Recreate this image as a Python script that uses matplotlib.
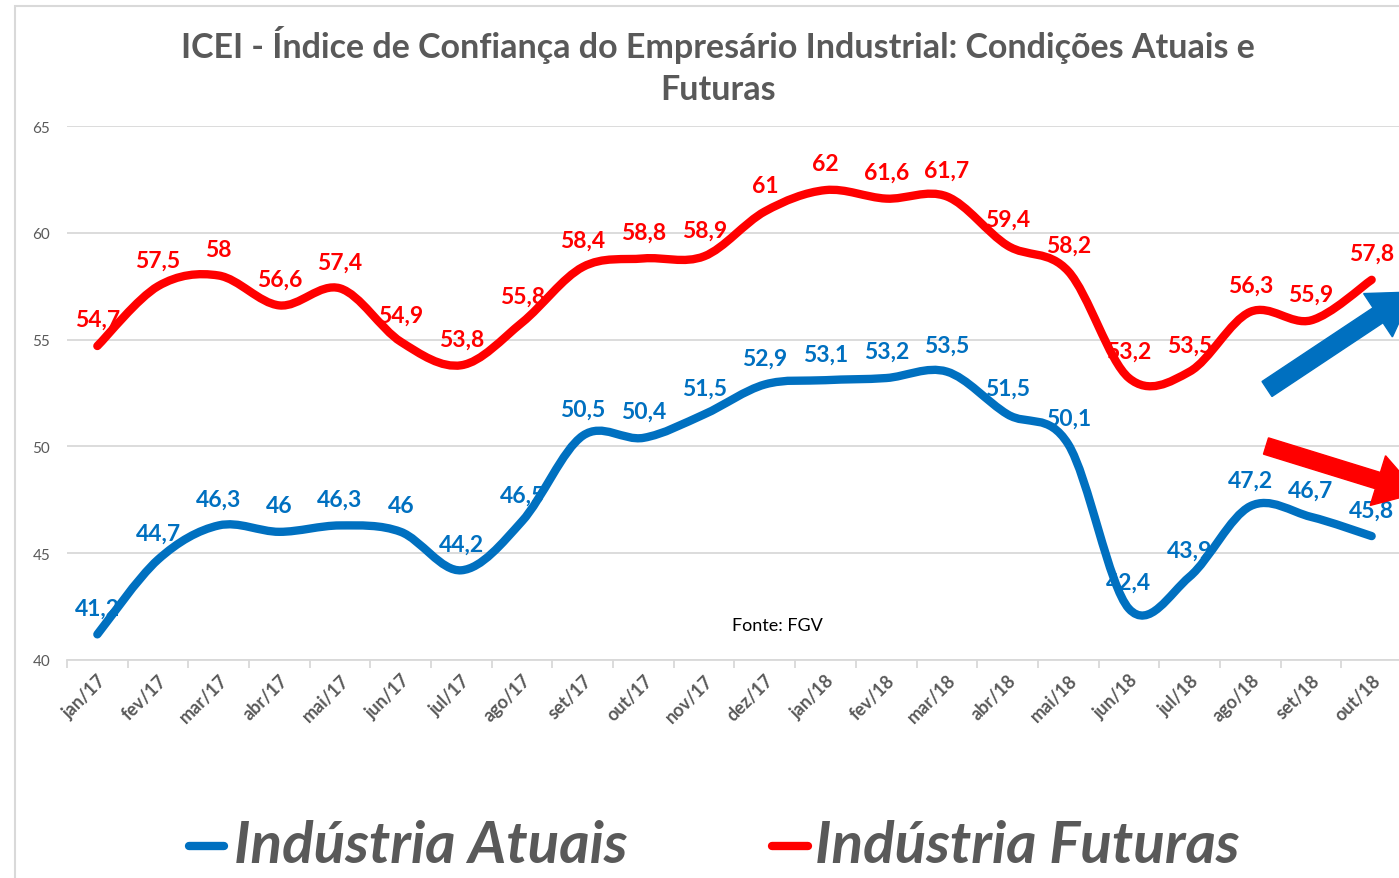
import matplotlib
matplotlib.use("Agg")
import matplotlib.pyplot as plt
from matplotlib.path import Path
from matplotlib.patches import PathPatch, FancyArrow, Rectangle
from matplotlib.lines import Line2D
import numpy as np

plt.rcParams.update({
    "font.family": ["Lato", "DejaVu Sans"],
})

meses = ["jan/17", "fev/17", "mar/17", "abr/17", "mai/17", "jun/17", "jul/17",
         "ago/17", "set/17", "out/17", "nov/17", "dez/17", "jan/18", "fev/18",
         "mar/18", "abr/18", "mai/18", "jun/18", "jul/18", "ago/18", "set/18",
         "out/18"]
atuais = [41.2, 44.7, 46.3, 46.0, 46.3, 46.0, 44.2, 46.5, 50.5, 50.4, 51.5,
          52.9, 53.1, 53.2, 53.5, 51.5, 50.1, 42.4, 43.9, 47.2, 46.7, 45.8]
futuras = [54.7, 57.5, 58.0, 56.6, 57.4, 54.9, 53.8, 55.8, 58.4, 58.8, 58.9,
           61.0, 62.0, 61.6, 61.7, 59.4, 58.2, 53.2, 53.5, 56.3, 55.9, 57.8]

AZUL = "#0070c0"
VERMELHO = "#ff0000"
CINZA = "#595959"
GRADE = "#d9d9d9"


def smooth_path(xs, ys):
    # Bezier segments like Excel's "smoothed line"
    pts = np.column_stack([xs, ys]).astype(float)
    n = len(pts)
    verts = [pts[0]]
    codes = [Path.MOVETO]
    for i in range(n - 1):
        p0 = pts[max(i - 1, 0)]
        p1 = pts[i]
        p2 = pts[i + 1]
        p3 = pts[min(i + 2, n - 1)]
        c1 = p1 + (p2 - p0) / 6.0
        c2 = p2 - (p3 - p1) / 6.0
        verts += [c1, c2, p2]
        codes += [Path.CURVE4] * 3
    return Path(verts, codes)


def fmt(v):
    s = f"{v:.1f}".replace(".", ",")
    return s[:-2] if s.endswith(",0") else s


W, H = 1399, 879
fig = plt.figure(figsize=(W / 100, H / 100), dpi=100)

# chart frame
fig.add_artist(Rectangle((15 / W, -0.1), 2, (H - 7) / H + 0.1, transform=fig.transFigure,
                         fill=False, edgecolor=GRADE, linewidth=1.5))

ax = fig.add_axes([67 / W, (H - 661) / H, (1402 - 67) / W, (661 - 127) / H])
ax.set_facecolor("none")
x = np.arange(len(meses))
ax.set_xlim(-0.5, len(meses) - 0.5)
ax.set_ylim(40, 65)
ax.set_yticks([40, 45, 50, 55, 60, 65])
ax.yaxis.grid(True, color=GRADE, linewidth=1.3)
ax.set_axisbelow(True)
for s in ["top", "right", "left"]:
    ax.spines[s].set_visible(False)
ax.spines["bottom"].set_color(GRADE)
ax.spines["bottom"].set_linewidth(1.3)
ax.tick_params(axis="y", length=0, labelsize=11, labelcolor=CINZA, pad=12)
ax.set_xticks(x)
ax.set_xticklabels(meses, rotation=45, ha="right", rotation_mode="anchor",
                   fontsize=13, color=CINZA, fontweight="bold")
ax.tick_params(axis="x", length=0, pad=8)
ax.set_xticks(np.arange(len(meses) + 1) - 0.5, minor=True)
ax.tick_params(axis="x", which="minor", length=6, color=GRADE, width=1.3)

for serie, cor in [(atuais, AZUL), (futuras, VERMELHO)]:
    ax.add_patch(PathPatch(smooth_path(x, serie), fill=False, edgecolor=cor,
                           linewidth=6, capstyle="round", joinstyle="round", zorder=4))
    for xi, v in zip(x, serie):
        ax.annotate(fmt(v), (xi, v), xytext=(0, 19), textcoords="offset points",
                    ha="center", va="center", fontsize=16.5, fontweight="bold",
                    color=cor, zorder=3)

ax.text(0.532, 0.065, "Fonte: FGV", transform=ax.transAxes, ha="center",
        va="center", fontsize=13, color="black")

fig.text(718 / W, 1 - 45 / H, "ICEI - Índice de Confiança do Empresário Industrial: Condições Atuais e",
         ha="center", va="center", fontsize=24.5, fontweight="bold", color=CINZA)
fig.text(718 / W, 1 - 90 / H, "Futuras",
         ha="center", va="center", fontsize=24.5, fontweight="bold", color=CINZA)

# arrows (pixel coordinates, converted to inches)
def px(xp, yp):
    return xp / 100, (H - yp) / 100


tx, ty = px(1267, 390)
hx, hy = px(1413, 293)
fig.add_artist(FancyArrow(tx, ty, hx - tx, hy - ty, width=0.18, head_width=0.52,
                          head_length=0.42, length_includes_head=True,
                          color=AZUL, transform=fig.dpi_scale_trans))
tx, ty = px(1266, 447)
hx, hy = px(1418, 494)
fig.add_artist(FancyArrow(tx, ty, hx - tx, hy - ty, width=0.17, head_width=0.52,
                          head_length=0.42, length_includes_head=True,
                          color=VERMELHO, transform=fig.dpi_scale_trans))

# legend
for x0, x1, xt, cor, rot in [(189, 224, 234, AZUL, "Indústria Atuais"),
                             (772, 808, 815, VERMELHO, "Indústria Futuras")]:
    fig.add_artist(Line2D([x0 / W, x1 / W], [(H - 847) / H] * 2, color=cor,
                          linewidth=6, solid_capstyle="round"))
    fig.text(xt / W, (H - 847) / H, rot, ha="left", va="center", fontsize=42,
             fontweight="bold", fontstyle="italic", color=CINZA)

fig.savefig("out.png", dpi=100)
